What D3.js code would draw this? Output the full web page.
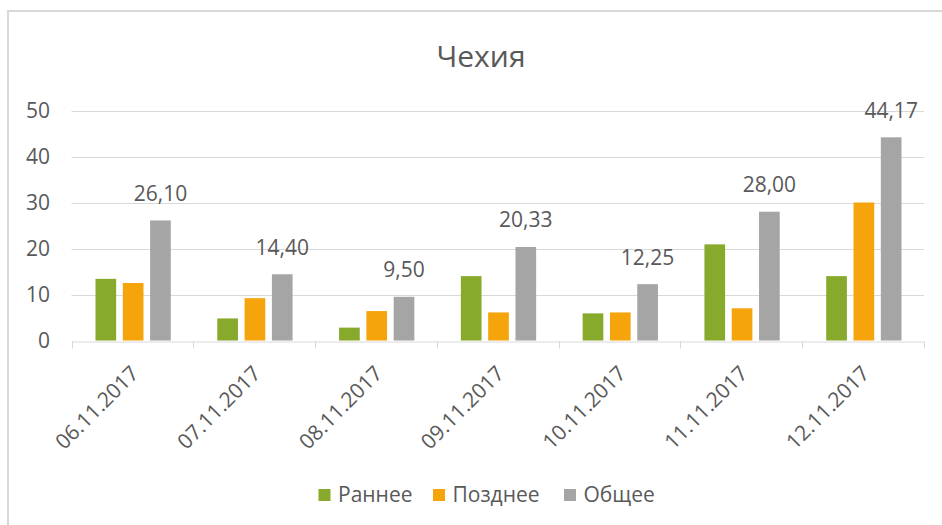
<!DOCTYPE html>
<html>
<head>
<meta charset="utf-8">
<script src="https://cdn.jsdelivr.net/npm/d3@7"></script>
<style>
    body { margin: 0; background: #fff; }
    svg text { font-family: "Open Sans", "Noto Sans", sans-serif; fill: #595959; }
</style>
</head>
<body>
<div id="chart"></div>
<script>
// chart data
const dates = ["06.11.2017", "07.11.2017", "08.11.2017", "09.11.2017", "10.11.2017", "11.11.2017", "12.11.2017"];
const seriesNames = ["Раннее", "Позднее", "Общее"];
const early = [13.4, 4.8, 2.8, 14.0, 5.9, 20.9, 14.0];
const late = [12.5, 9.2, 6.4, 6.1, 6.1, 7.0, 30.0];
const total = [26.10, 14.40, 9.50, 20.33, 12.25, 28.00, 44.17];
const yTicks = [0, 10, 20, 30, 40, 50];
const colors = ["#87aa2d", "#f5a40c", "#a5a5a5"];

const width = 942, height = 525;
const margin = {top: 110.5, right: 18, bottom: 184.5, left: 71.5};

let svg = d3.select("#chart").append("svg")
    .attr("width", width)
    .attr("height", height);

// outer frame
svg.append("rect")
    .attr("x", 8)
    .attr("y", 11)
    .attr("width", 960)
    .attr("height", 540)
    .attr("fill", "none")
    .attr("stroke", "#d9d9d9")
    .attr("stroke-width", 2);

// title
svg.append("text")
    .attr("x", 481)
    .attr("y", 67)
    .attr("text-anchor", "middle")
    .style("font-size", "30px")
    .text("Чехия");

let x0 = d3.scaleBand()
    .domain(dates)
    .range([margin.left, width - margin.right])
    .padding(0);

let x1 = d3.scaleBand()
    .domain(seriesNames)
    .range([24, x0.bandwidth() - 22.5])
    .paddingInner(0.243)
    .paddingOuter(0);

let y = d3.scaleLinear()
    .domain([0, 50])
    .range([height - margin.bottom, margin.top]);

// gridlines
svg.append("g")
    .selectAll("line")
    .data(yTicks.filter(d => d > 0))
    .join("line")
    .attr("x1", margin.left)
    .attr("x2", width - margin.right)
    .attr("y1", d => Math.round(y(d)) + 0.5)
    .attr("y2", d => Math.round(y(d)) + 0.5)
    .attr("stroke", "#d9d9d9")
    .attr("stroke-width", 1);

// y axis labels
svg.append("g")
    .selectAll("text")
    .data(yTicks)
    .join("text")
    .attr("x", 50)
    .attr("y", d => y(d))
    .attr("dy", "0.35em")
    .attr("text-anchor", "end")
    .style("font-size", "21px")
    .text(d => d);

// x axis
let xAxis = d3.axisBottom(x0)
    .tickSize(7)
    .tickSizeOuter(0)
    .tickFormat("");

let xg = svg.append("g")
    .attr("transform", `translate(0, ${Math.round(y(0)) + 0.5})`)
    .call(xAxis);
xg.select(".domain").attr("stroke", "#d9d9d9");

// ticks sit on the category borders, not the centres
let borders = dates.map(d => x0(d)).concat([x0.range()[1]]);
xg.selectAll(".tick").remove();
xg.selectAll(".border-tick")
    .data(borders)
    .join("line")
    .attr("class", "border-tick")
    .attr("x1", d => Math.round(d) + 0.5)
    .attr("x2", d => Math.round(d) + 0.5)
    .attr("y1", 0)
    .attr("y2", 7)
    .attr("stroke", "#d9d9d9");

// rotated date labels
svg.append("g")
    .selectAll("text")
    .data(dates)
    .join("text")
    .attr("transform", d => `translate(${x0(d) + x0.bandwidth() / 2 + 2.5}, ${y(0) + 29}) rotate(-45)`)
    .attr("text-anchor", "end")
    .attr("dy", "0.35em")
    .style("font-size", "21px")
    .text(d => d);

// bars
let seriesValues = [early, late, total];
let groups = svg.append("g")
    .selectAll("g")
    .data(dates)
    .join("g")
    .attr("transform", d => `translate(${x0(d)}, 0)`);

groups.selectAll("rect")
    .data((d, i) => seriesNames.map((s, j) => ({series: s, value: seriesValues[j][i], color: colors[j]})))
    .join("rect")
    .attr("x", d => x1(d.series))
    .attr("width", x1.bandwidth())
    .attr("y", d => y(d.value))
    .attr("height", d => y(0) - y(d.value))
    .attr("fill", d => d.color);

// data labels on the total bars
svg.append("g")
    .selectAll("text")
    .data(dates)
    .join("text")
    .attr("x", d => x0(d) + x1("Общее") + x1.bandwidth() / 2)
    .attr("y", (d, i) => y(total[i]) - 19.5)
    .attr("text-anchor", "middle")
    .style("font-size", "21px")
    .text((d, i) => total[i].toFixed(2).replace(".", ","));

// legend
let legendX = [318.5, 433, 564];
let legend = svg.append("g")
    .selectAll("g")
    .data(seriesNames)
    .join("g")
    .attr("transform", (d, i) => `translate(${legendX[i]}, 495)`);

legend.append("rect")
    .attr("x", 0)
    .attr("y", -6)
    .attr("width", 12)
    .attr("height", 12)
    .attr("fill", (d, i) => colors[i]);

legend.append("text")
    .attr("x", 19.5)
    .attr("y", 0)
    .attr("dy", "0.35em")
    .style("font-size", "21px")
    .text(d => d);
</script>
</body>
</html>
